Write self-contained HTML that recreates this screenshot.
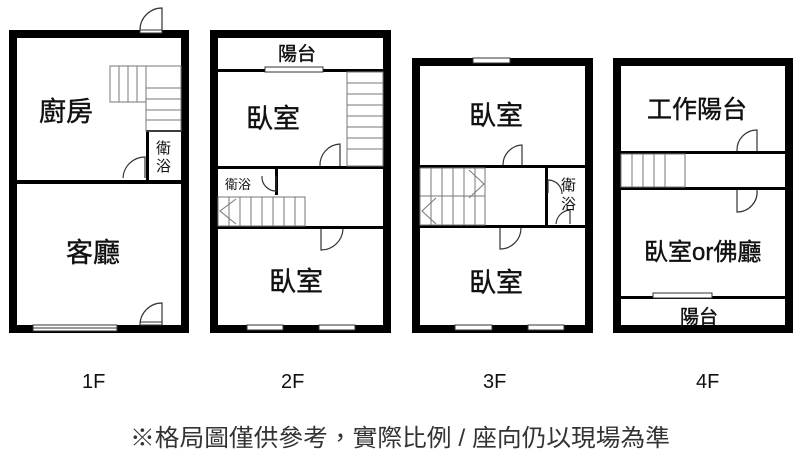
<!DOCTYPE html>
<html><head><meta charset="utf-8"><style>
body{margin:0;background:#fff}
svg{display:block}
text{font-family:"Liberation Sans","Noto Sans CJK TC",sans-serif;fill:#111}
.r{stroke:#111;stroke-width:0.4}
.d{fill:none;stroke:#333;stroke-width:1.2}
.s{stroke:#777;stroke-width:1}
</style></head><body>
<svg width="800" height="460" viewBox="0 0 800 460" xmlns="http://www.w3.org/2000/svg">
<!-- 1F -->
<rect x="13" y="34" width="172" height="295" fill="none" stroke="#000" stroke-width="8"/>
<rect x="17" y="180" width="164" height="4" fill="#000"/>
<rect x="146" y="131" width="3" height="51" fill="#000"/>
<rect x="146" y="130" width="35" height="2" fill="#000"/>
<g class="s">
<rect x="110" y="66" width="36" height="36" fill="none"/>
<line x1="119" y1="66" x2="119" y2="102"/><line x1="128" y1="66" x2="128" y2="102"/><line x1="137" y1="66" x2="137" y2="102"/>
<rect x="146" y="66" width="35" height="65" fill="none"/>
<line x1="146" y1="88" x2="181" y2="88"/><line x1="146" y1="99" x2="181" y2="99"/><line x1="146" y1="110" x2="181" y2="110"/><line x1="146" y1="120" x2="181" y2="120"/>
</g>
<rect x="140" y="30" width="22" height="3" fill="#fff" stroke="#333" stroke-width="1"/>
<path class="d" d="M140,30 A22,22 0 0 1 162,8 L162,30"/>
<path class="d" d="M123,178 A22,22 0 0 1 145,157 L145,178"/>
<rect x="140" y="322" width="22" height="3" fill="#fff" stroke="#333"/>
<path class="d" d="M140,325 A22,22 0 0 1 162,303 L162,325"/>
<rect x="33" y="325" width="84" height="6" fill="#fff" stroke="#333"/>
<line x1="33" y1="328" x2="117" y2="328" stroke="#333"/>
<text class="r" x="39" y="121" font-size="27">廚房</text>
<text class="r" x="66" y="262" font-size="27">客廳</text>
<text x="156" y="153" font-size="15">衛</text>
<text x="156" y="171" font-size="15">浴</text>
<text x="82" y="388" font-size="20">1F</text>

<!-- 2F -->
<rect x="214" y="34" width="173" height="295" fill="none" stroke="#000" stroke-width="8"/>
<rect x="218" y="69" width="165" height="3" fill="#000"/>
<rect x="218" y="166" width="165" height="3" fill="#000"/>
<rect x="218" y="226" width="165" height="3" fill="#000"/>
<rect x="275" y="168" width="3" height="27" fill="#000"/>
<rect x="265" y="67" width="58" height="5" fill="#fff" stroke="#333"/>
<g class="s">
<rect x="347" y="72" width="36" height="94" fill="none"/>
<line x1="347" y1="83" x2="383" y2="83"/><line x1="347" y1="94" x2="383" y2="94"/><line x1="347" y1="105" x2="383" y2="105"/><line x1="347" y1="116" x2="383" y2="116"/><line x1="347" y1="127" x2="383" y2="127"/><line x1="347" y1="138" x2="383" y2="138"/><line x1="347" y1="149" x2="383" y2="149"/>
<rect x="218" y="197" width="87" height="29" fill="none"/>
<line x1="229" y1="197" x2="229" y2="226"/><line x1="240" y1="197" x2="240" y2="226"/><line x1="251" y1="197" x2="251" y2="226"/><line x1="262" y1="197" x2="262" y2="226"/><line x1="273" y1="197" x2="273" y2="226"/><line x1="284" y1="197" x2="284" y2="226"/><line x1="295" y1="197" x2="295" y2="226"/>
<path d="M236,199 L220,211 L236,224" fill="none"/>
</g>
<path class="d" d="M320,166 A21,21 0 0 1 340,144 L340,166"/>
<path class="d" d="M262,176 A14,14 0 0 0 276,191 L276,176"/>
<path class="d" d="M321,229 L321,250 A22,22 0 0 0 343,229"/>
<rect x="247" y="325" width="36" height="5" fill="#fff" stroke="#333"/>
<rect x="319" y="325" width="36" height="5" fill="#fff" stroke="#333"/>
<text class="r" x="278" y="60" font-size="19">陽台</text>
<text class="r" x="246" y="128" font-size="27">臥室</text>
<text class="r" x="269" y="291" font-size="27">臥室</text>
<text x="225" y="189" font-size="13">衛浴</text>
<text x="281" y="388" font-size="20">2F</text>

<!-- 3F -->
<rect x="416" y="62" width="173" height="267" fill="none" stroke="#000" stroke-width="8"/>
<rect x="473" y="58" width="37" height="5" fill="#fff" stroke="#333"/>
<rect x="420" y="165" width="165" height="3" fill="#000"/>
<rect x="420" y="225" width="165" height="3" fill="#000"/>
<rect x="545" y="166" width="3" height="59" fill="#000"/>
<g class="s">
<rect x="420" y="168" width="65" height="57" fill="none"/>
<line x1="420" y1="196" x2="485" y2="196"/>
<line x1="431" y1="168" x2="431" y2="225"/><line x1="442" y1="168" x2="442" y2="225"/><line x1="453" y1="168" x2="453" y2="225"/><line x1="464" y1="168" x2="464" y2="225"/><line x1="475" y1="168" x2="475" y2="225"/>
<path d="M469,170 L484,184 L469,198 M436,198 L422,211 L436,224" fill="none"/>
</g>
<path class="d" d="M503,165 A20,20 0 0 1 522,145 L522,165"/>
<path class="d" d="M548,180 L548,193 M548,180 A14,14 0 0 1 562,194"/>
<path class="d" d="M556,224 A15,15 0 0 1 570,210 L570,224"/>
<path class="d" d="M500,228 L500,249 A21,21 0 0 0 521,228"/>
<rect x="455" y="325" width="37" height="5" fill="#fff" stroke="#333"/>
<rect x="528" y="325" width="36" height="5" fill="#fff" stroke="#333"/>
<text class="r" x="469" y="125" font-size="27">臥室</text>
<text class="r" x="469" y="292" font-size="27">臥室</text>
<text x="561" y="190" font-size="15">衛</text>
<text x="561" y="209" font-size="15">浴</text>
<text x="483" y="388" font-size="20">3F</text>

<!-- 4F -->
<rect x="617" y="62" width="172" height="267" fill="none" stroke="#000" stroke-width="8"/>
<rect x="621" y="151" width="164" height="3" fill="#000"/>
<rect x="621" y="187" width="164" height="3" fill="#000"/>
<rect x="621" y="296" width="164" height="3" fill="#000"/>
<g class="s">
<rect x="621" y="154" width="64" height="33" fill="none"/>
<line x1="632" y1="154" x2="632" y2="187"/><line x1="643" y1="154" x2="643" y2="187"/><line x1="654" y1="154" x2="654" y2="187"/><line x1="665" y1="154" x2="665" y2="187"/>
</g>
<path class="d" d="M737,151 A20,20 0 0 1 757,130 L757,151"/>
<path class="d" d="M737,190 L737,212 A20,20 0 0 0 757,190"/>
<rect x="653" y="293" width="59" height="5" fill="#fff" stroke="#333"/>
<text class="r" x="647" y="118" font-size="25">工作陽台</text>
<text class="r" x="644" y="260" font-size="24">臥室or佛廳</text>
<text class="r" x="680" y="323" font-size="19">陽台</text>
<text x="696" y="388" font-size="20">4F</text>

<text x="130" y="446" font-size="24" textLength="540" lengthAdjust="spacingAndGlyphs" style="fill:#333">※格局圖僅供參考，實際比例 / 座向仍以現場為準</text>
</svg>
</body></html>
